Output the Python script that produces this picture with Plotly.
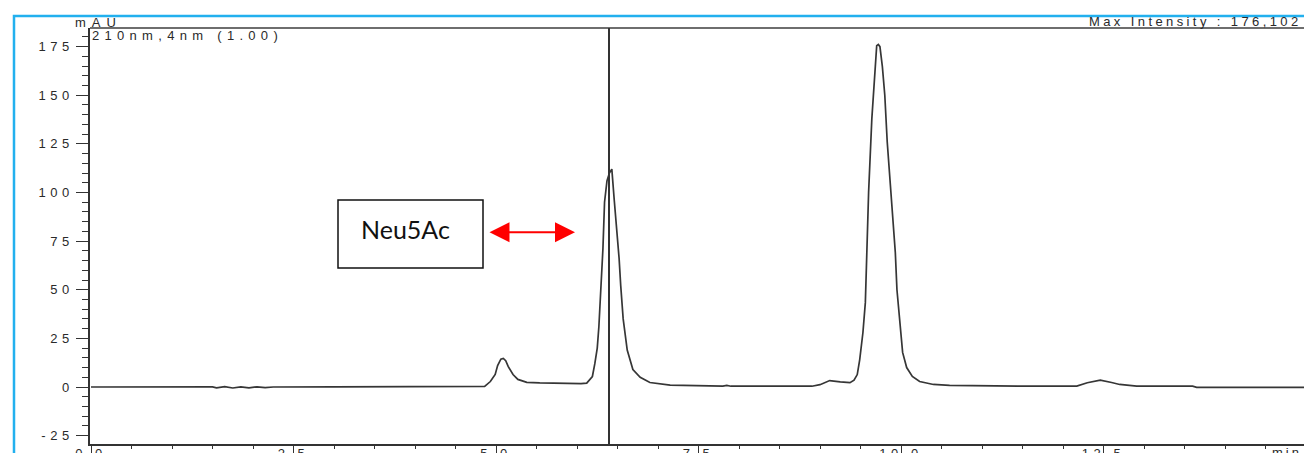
import plotly.graph_objects as go

# ---------------- data ----------------
time_min = [
    0.00, 0.50, 1.00, 1.50, 1.55, 1.65, 1.75, 1.85, 1.95, 2.05, 2.15, 2.25, 3.00, 4.00, 4.50, 4.80,
    4.86, 4.93, 4.99, 5.02, 5.06, 5.09, 5.12, 5.15, 5.21, 5.27, 5.38, 5.54, 5.88, 6.05, 6.12,
    6.19, 6.22, 6.25, 6.27, 6.30, 6.32, 6.34, 6.37, 6.40, 6.43, 6.46, 6.49, 6.52, 6.54, 6.57,
    6.62, 6.69, 6.78, 6.90, 7.15, 7.50, 7.80, 7.85, 7.90, 8.50, 8.90,
    9.00, 9.12, 9.25, 9.37, 9.42, 9.46, 9.49, 9.53, 9.56, 9.58, 9.60, 9.64, 9.67, 9.70, 9.72,
    9.74, 9.77, 9.80, 9.83, 9.86, 9.90, 9.93, 9.95, 9.99, 10.02, 10.07, 10.14, 10.23, 10.40,
    10.60, 11.00, 11.50, 12.00, 12.17, 12.30, 12.46, 12.60, 12.70, 12.91, 13.60, 13.65, 14.98,
]
absorbance_mau = [
    0.0, 0.1, 0.0, 0.1, -0.4, 0.2, -0.5, 0.1, -0.4, 0.1, -0.3, 0.0, 0.1, 0.2, 0.2, 0.3,
    0.3, 2.8, 6.5, 11.0, 14.3, 14.7, 13.5, 10.6, 6.4, 3.9, 2.4, 2.1, 1.7, 1.7, 2.0,
    5.4, 12.0, 20.0, 31.0, 54.0, 71.0, 95.0, 106.0, 110.0, 112.0, 96.0, 83.0, 66.0, 52.0, 35.0,
    19.0, 9.0, 5.0, 2.3, 1.0, 0.6, 0.5, 0.8, 0.4, 0.4, 0.4,
    1.2, 3.3, 2.6, 2.2, 3.5, 6.4, 14.0, 28.0, 43.5, 76.0, 100.0, 138.0, 157.0, 175.5, 176.1,
    175.0, 164.7, 150.0, 126.0, 108.0, 83.0, 69.0, 50.0, 29.6, 17.8, 10.0, 5.4, 2.8, 1.3,
    0.8, 0.5, 0.4, 0.4, 0.5, 2.2, 3.5, 2.3, 1.3, 0.4, 0.4, -0.2, -0.2,
]
x_tick_values = [0.0, 2.5, 5.0, 7.5, 10.0, 12.5]
x_tick_labels = ["0.0", "2.5", "5.0", "7.5", "10.0", "12.5"]
y_tick_values = [-25, 0, 25, 50, 75, 100, 125, 150, 175]
y_tick_labels = ["-25", "0", "25", "50", "75", "100", "125", "150", "175"]
cursor_time = 6.395
neu5ac_arrow_time = 5.975
neu5ac_arrow_level = 79.6

# ---------------- layout geometry ----------------
W, H = 1304, 453
ML, MR, MT, MB = 90, 0, 28, 9
PW, PH = W - ML - MR, H - MT - MB


def px_x(px):
    return (px - ML) / PW


def px_y(py):
    return (H - MB - py) / PH


FONT = "Liberation Sans, Arial, sans-serif"
TXT = "#2a2a2a"


def spaced(s, sp=4.5):
    return f'<span style="letter-spacing:{sp}px">{s}</span>'


fig = go.Figure()
fig.add_trace(go.Scatter(
    x=time_min, y=absorbance_mau, mode="lines",
    line=dict(color="#363636", width=1.7), showlegend=False, hoverinfo="x+y",
))

fig.update_layout(
    width=W, height=H,
    margin=dict(l=ML, r=MR, t=MT, b=MB, pad=0, autoexpand=False),
    paper_bgcolor="white", plot_bgcolor="white",
    font=dict(family=FONT, size=13, color=TXT),
    showlegend=False,
)

fig.update_xaxes(
    range=[-1 / 81, 1213 / 81], automargin=False,
    showgrid=False, zeroline=False,
    showline=True, linecolor="#333333", linewidth=1.5,
    tickmode="array", tickvals=x_tick_values,
    ticktext=[spaced(t) for t in x_tick_labels],
    ticks="outside", ticklen=7, tickwidth=1.2, tickcolor="#333333",
    tickfont=dict(family=FONT, size=13, color=TXT),
    ticklabelstandoff=-10,
    minor=dict(dtick=0.5, tick0=0, ticks="outside", ticklen=3, tickwidth=1.2, tickcolor="#333333"),
)
fig.update_yaxes(
    range=[(387 - 444) / 1.945, (387 - 28) / 1.945], automargin=False,
    showgrid=False, zeroline=False,
    showline=True, linecolor="#333333", linewidth=1.5,
    tickmode="array", tickvals=y_tick_values,
    ticktext=[spaced(t) for t in y_tick_labels],
    ticks="outside", ticklen=12, tickwidth=1.2, tickcolor="#333333",
    tickfont=dict(family=FONT, size=13, color=TXT),
    minor=dict(dtick=5, tick0=0, ticks="outside", ticklen=6, tickwidth=1.2, tickcolor="#333333"),
)

# top frame line, cursor line, outer blue frame
fig.add_shape(type="line", xref="paper", yref="paper", x0=0, x1=1, y0=1, y1=1,
              line=dict(color="#6e6e6e", width=2))
fig.add_shape(type="line", xref="x", yref="paper", x0=cursor_time, x1=cursor_time, y0=0, y1=1,
              line=dict(color="#333333", width=2))
fig.add_shape(type="rect", xref="paper", yref="paper",
              x0=px_x(14), x1=1.05, y0=-0.2, y1=px_y(16),
              line=dict(color="#22B0EE", width=2.5), fillcolor="rgba(0,0,0,0)")

# header texts
fig.add_annotation(xref="paper", yref="paper", x=px_x(74), y=px_y(31), xanchor="left", yanchor="bottom",
                   text=spaced("mAU", 6), showarrow=False, borderpad=0,
                   font=dict(family=FONT, size=13, color=TXT))
fig.add_annotation(xref="paper", yref="paper", x=px_x(91), y=px_y(27), xanchor="left", yanchor="top",
                   text=spaced("210nm,4nm (1.00)", 5.3), showarrow=False, borderpad=0,
                   font=dict(family=FONT, size=13, color=TXT))
fig.add_annotation(xref="paper", yref="paper", x=px_x(1303), y=px_y(30), xanchor="right", yanchor="bottom",
                   text=spaced("Max Intensity : 176,102", 3.4), showarrow=False, borderpad=0,
                   font=dict(family=FONT, size=13, color=TXT))
fig.add_annotation(xref="paper", yref="paper", x=px_x(1303), y=px_y(444), xanchor="right", yanchor="top",
                   text=spaced("min", 3), showarrow=False, borderpad=0,
                   font=dict(family=FONT, size=13, color=TXT))

# Neu5Ac label box and red double arrow
fig.add_shape(type="rect", xref="paper", yref="paper",
              x0=px_x(338), x1=px_x(483), y0=px_y(268), y1=px_y(200),
              line=dict(color="#111111", width=1.5), fillcolor="white")
fig.add_annotation(xref="paper", yref="paper", x=px_x(405), y=px_y(229), xanchor="center", yanchor="middle",
                   text="Neu5Ac", showarrow=False, borderpad=0,
                   font=dict(family="Lato, Open Sans, sans-serif", size=25, color="#111111"))
fig.add_annotation(x=neu5ac_arrow_time, y=neu5ac_arrow_level, xref="x", yref="y",
                   ax=-87, ay=0, text="", showarrow=True,
                   arrowhead=2, startarrowhead=2, arrowside="end+start",
                   arrowsize=2.0, startarrowsize=2.0, arrowwidth=2, arrowcolor="#FF0000",
                   standoff=0, startstandoff=0)

fig.write_html("out.html")
